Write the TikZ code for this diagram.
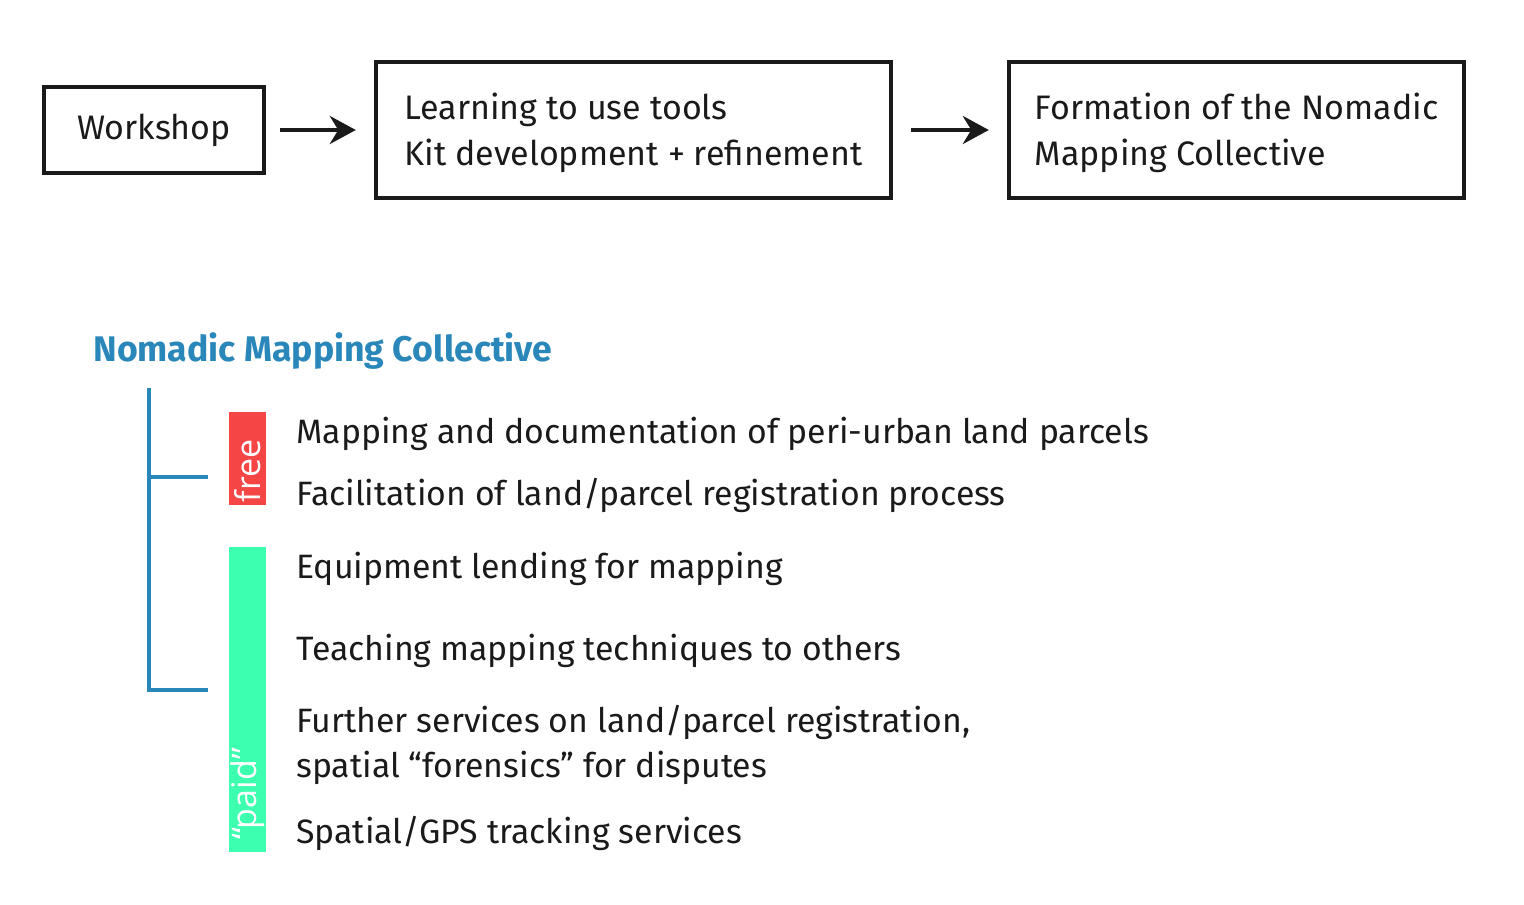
\documentclass[tikz,border=0pt]{standalone}
\usepackage{fontspec}
\setmainfont{Fira Sans}
\newfontfamily\tagfont{Open Sans}
\usetikzlibrary{arrows.meta}
\definecolor{nmcblue}{HTML}{2A87BA}
\definecolor{freered}{HTML}{F54545}
\definecolor{paidgreen}{HTML}{3CFFAF}
\definecolor{ink}{HTML}{1A1A1A}
\tikzset{stagebox/.style={draw=ink,line width=2.2pt,inner sep=0pt,minimum height=68pt,align=left,font=\fontsize{17}{23}\selectfont,text=ink},
  stagearrow/.style={-{Stealth[length=13pt,width=14pt]},line width=2pt,draw=ink},
  item/.style={anchor=west,inner sep=0pt,align=left,font=\fontsize{16.9}{22.5}\selectfont,text=ink},
  tagbar/.style={minimum width=18.5pt,inner sep=0pt},
  tag/.style={rotate=90,text=white,inner sep=0pt,font=\tagfont\fontsize{17}{17}\selectfont}}

\begin{document}
\begin{tikzpicture}[x=0.5pt,y=-0.5pt]
  \useasboundingbox (0,0) rectangle (1524,904);
  \node[stagebox,minimum width=110pt,minimum height=43pt,align=center] (workshop) at (154,130) {Workshop};
  \node[stagebox,minimum width=257.5pt,text depth=1pt] (learning) at (633.5,130) {Learning to use tools\\Kit development + refinement};
  \node[stagebox,minimum width=227.5pt,text depth=1pt] (formation) at (1236.5,130) {Formation of the Nomadic\\Mapping Collective};
  \draw[stagearrow,shorten <=7pt,shorten >=9pt] (workshop) -- (learning); \draw[stagearrow,shorten <=9pt,shorten >=9pt] (learning) -- (formation);
  \node[anchor=west,inner sep=0pt,text=nmcblue,font=\bfseries\fontsize{17.8}{20}\selectfont] (nmc) at (93,351) {Nomadic Mapping Collective};
  \draw[nmcblue,line width=2pt] (208,477) -- (149,477); \draw[nmcblue,line width=2pt] (149,388) -- (149,690) -- (208,690);
  \node[tagbar,fill=freered,minimum height=46.5pt] (freebar) at (247.5,458.5) {}; \node[tag] at (248,471) {free};
  \node[tagbar,fill=paidgreen,minimum height=152.5pt] (paidbar) at (247.5,699.5) {}; \node[tag] at (248,794) {“paid”};
  \node[item] (mapping) at (296,434) {Mapping and documentation of peri-urban land parcels};
  \node[item] (facilitation) at (296,495) {Facilitation of land/parcel registration process};
  \node[item] (lending) at (296,569) {Equipment lending for mapping};
  \node[item] (teaching) at (296,651) {Teaching mapping techniques to others};
  \node[item] (further) at (296,744.5) {Further services on land/parcel registration,\\spatial “forensics” for disputes};
  \node[item] (tracking) at (296,833) {Spatial/GPS tracking services};
\end{tikzpicture}
\end{document}
